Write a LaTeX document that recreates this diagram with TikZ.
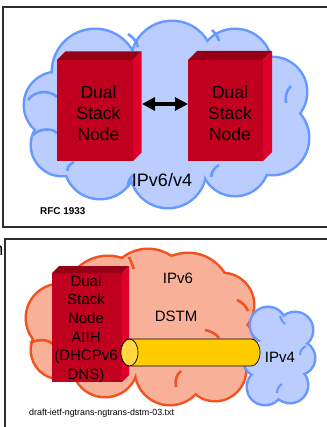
\documentclass[tikz,border=0pt]{standalone}
\usepackage{fontspec}
\setmainfont{Liberation Sans}
\usetikzlibrary{arrows.meta,calc}
\definecolor{cloudblue}{RGB}{187,204,255}
\definecolor{cloudblueline}{RGB}{102,153,255}
\definecolor{cloudor}{RGB}{248,176,152}
\definecolor{cloudorline}{RGB}{240,82,32}
\definecolor{boxfront}{RGB}{192,0,30}
\definecolor{boxtop}{RGB}{150,0,22}
\definecolor{boxside}{RGB}{222,0,42}
\definecolor{pipebody}{RGB}{255,204,0}
\definecolor{pipeend}{RGB}{255,216,64}
\definecolor{framec}{RGB}{45,45,45}
\newcommand{\mkcloud}[4]{%
  \foreach \cx/\cy/\rr in {#1} {\draw[#3, line width=5pt, fill=#2] (\cx,\cy) circle (\rr);}
  \foreach \cx/\cy/\rr in {#1} {\fill[#2] (\cx,\cy) circle (\rr);}
  \fill[#2] #4;
}
\newcommand{\boxfaces}[2]{%
  \fill[boxtop] (#1.north west) -- ++(#2,-#2) -- ([shift={(#2,-#2)}]#1.north east) -- (#1.north east) -- cycle;
  \fill[boxside] (#1.north east) -- ++(#2,-#2) -- ([shift={(#2,-#2)}]#1.south east) -- (#1.south east) -- cycle;
}
\begin{document}
\begin{tikzpicture}[x=1pt,y=-1pt,
  dsfront/.style={fill=boxfront, inner sep=0pt, outer sep=0pt},
  bigtext/.style={font=\fontsize{17.5}{21}\selectfont, align=center, inner sep=0pt},
  midtext/.style={font=\fontsize{15}{18.7}\selectfont, align=center, inner sep=0pt},
  frameline/.style={draw=framec, line width=1.6pt},
  bluearc/.style={draw=cloudblueline, line width=2.6pt},
  orarc/.style={draw=cloudorline, line width=2.6pt},
  dsarrow/.style={line width=4.5pt, {Triangle[length=13pt,width=13pt]}-{Triangle[length=13pt,width=13pt]}}
]
\useasboundingbox (0,0) rectangle (326,427);
\fill[white] (0,0) rectangle (326,427);

% ---------- upper panel ----------
\draw[frameline] (3,7) rectangle (345,227);
\mkcloud{95/72/42, 172/62/40, 235/66/36, 272/92/34, 272/138/36, 235/162/33, 168/170/37, 100/163/35, 62/145/30, 57/105/32}{cloudblue}{cloudblueline}{(165,115) ellipse (112 and 55)}
\draw[bluearc] (28,100) .. controls (35,90) and (50,90) .. (57,97);
\draw[bluearc] (33,135) .. controls (40,128) and (52,128) .. (57,133);
\draw[bluearc] (128,34) .. controls (134,38) and (137,42) .. (138,47);
\draw[bluearc] (212,30) .. controls (216,34) and (218,37) .. (219,41);
\draw[bluearc] (291,86) .. controls (286,91) and (285,97) .. (286,103);
\draw[bluearc] (211,177) .. controls (212,171) and (214,168) .. (219,165);
\draw[bluearc] (128,187) .. controls (128,181) and (130,177) .. (134,175);
\draw[bluearc] (67,171) .. controls (68,166) and (70,164) .. (74,162);

\node[dsfront, minimum width=76pt, minimum height=101pt] (lb) at (95,110.5) {};
\boxfaces{lb}{8.5}
\node[dsfront, minimum width=75pt, minimum height=101pt] (rb) at (225.5,110.5) {};
\boxfaces{rb}{9}
\node[bigtext] (lbt) at (98.5,113) {Dual\\Stack\\Node};
\node[bigtext] (rbt) at (230,113) {Dual\\Stack\\Node};
\draw[dsarrow] ([xshift=9pt,yshift=6.5pt]lb.east) -- ([yshift=6.5pt]rb.west);
\node[font=\fontsize{18}{21}\selectfont, inner sep=0pt] (net1) at (162,180) {IPv6/v4};
\node[font=\bfseries\fontsize{9.9}{12}\selectfont, anchor=west, inner sep=0pt] (rfc) at (40,211) {RFC 1933};

% ---------- lower panel ----------
\node[font=\fontsize{18}{21}\selectfont, anchor=east, inner sep=0pt] (cut) at (3.6,251) {n};
\draw[frameline] (5,239) rectangle (345,445);
\mkcloud{108/300/43, 148/290/40, 188/296/42, 222/305/31, 226/343/27, 215/370/30, 170/370/34, 105/364/32, 60/350/28, 60/318/33}{cloudor}{cloudorline}{(145,328) ellipse (95 and 45)}
\draw[orarc] (205,330) .. controls (211,331) and (216,334) .. (219,338);
\draw[orarc] (181,371) .. controls (176,375) and (175,380) .. (176,387);
\draw[orarc] (30,343) .. controls (38,339) and (47,339) .. (53,344);
\draw[orarc] (237,300) .. controls (242,302) and (246,306) .. (248,311);
\draw[orarc] (129,257) .. controls (131,261) and (132,265) .. (134,269);

\mkcloud{268/325/17, 295/330/17, 298/358/16, 290/385/17, 265/387/17, 258/362/13}{cloudblue}{cloudblueline}{(280,355) circle (24)}
\draw[bluearc, line width=2pt] (280,316) .. controls (281,319) and (282,322) .. (285,324);
\draw[bluearc, line width=2pt] (306,346) .. controls (302,348) and (300,351) .. (300,355);
\draw[bluearc, line width=2pt] (277,393) .. controls (277,389) and (279,386) .. (282,384);

\node[dsfront, minimum width=70pt, minimum height=109pt] (cb) at (87,327.5) {};
\boxfaces{cb}{7}
\node[midtext] (cbt) at (86,329) {Dual\\Stack\\Node\\AIIH\\(DHCPv6\\DNS)};

% tunnel
\draw[fill=pipebody, line width=0.7pt] (129.5,339) -- (251.5,339) arc (-90:90:8.5 and 13.5) -- (129.5,366) arc (90:270:8.5 and 13.5) -- cycle;
\draw[fill=pipeend, line width=0.7pt] (129.5,352.5) ellipse (8.5 and 13.5);

\node[midtext] (v6) at (178,278) {IPv6};
\node[midtext] (dstm) at (176,316) {DSTM};
\node[midtext] (v4) at (280,357) {IPv4};
\node[font=\fontsize{8.9}{11}\selectfont, anchor=west, inner sep=0pt] (draft) at (29,413) {draft-ietf-ngtrans-ngtrans-dstm-03.txt};
\end{tikzpicture}
\end{document}
